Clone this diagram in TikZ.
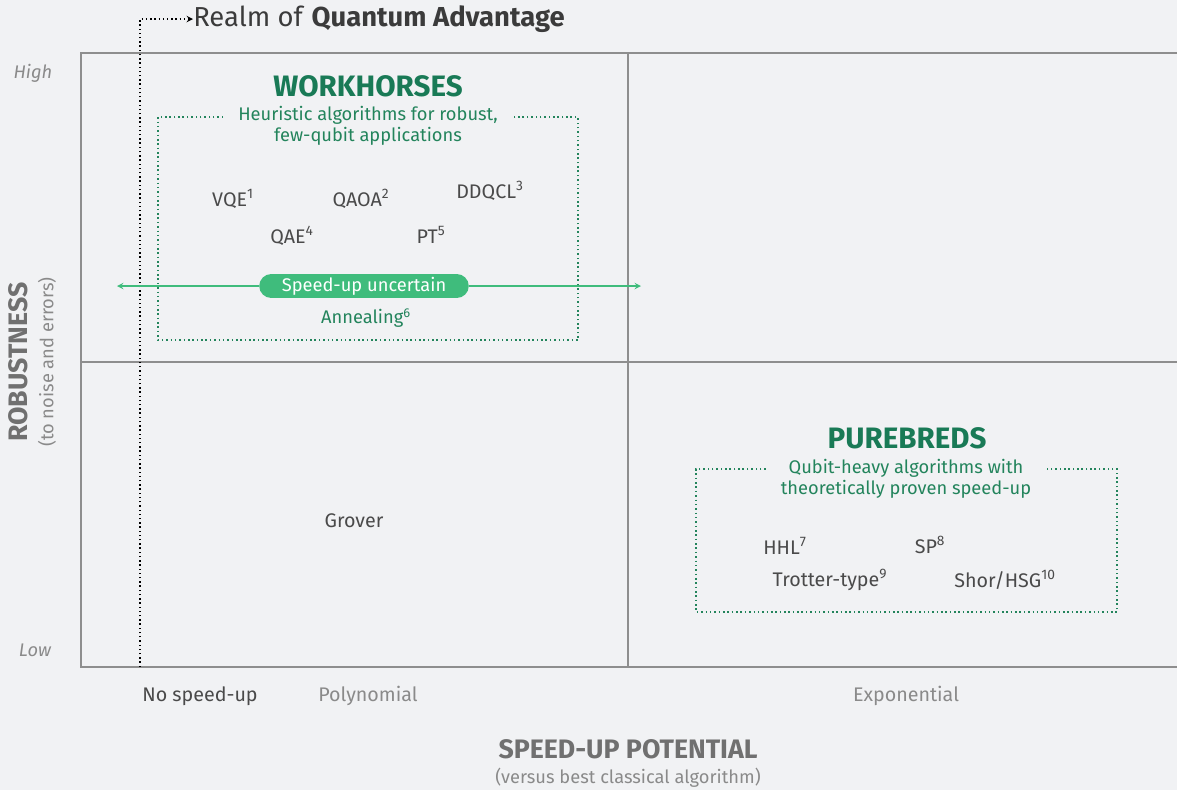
\documentclass[tikz,border=0pt]{standalone}
\usepackage{fontspec}
\setmainfont{Fira Sans}
\usepackage{xcolor}
\usetikzlibrary{positioning}
\usetikzlibrary{calc}

\definecolor{bgcol}{HTML}{F1F2F4}
\definecolor{framegray}{HTML}{8E8E8E}
\definecolor{txtgray}{HTML}{4A4A4A}
\definecolor{lightgray}{HTML}{8A8A8A}
\definecolor{axisgray}{HTML}{707070}
\definecolor{titlegreen}{HTML}{197A56}
\definecolor{subgreen}{HTML}{23845C}
\definecolor{pillgreen}{HTML}{3FBC7C}

\begin{document}
\begin{tikzpicture}[x=0.025cm, y=-0.025cm,
			algonode/.style={text=txtgray, font=\fontsize{14}{16}\selectfont, inner sep=0pt},
			titlenode/.style={text=titlegreen, font=\fontsize{21}{23}\selectfont\bfseries, inner sep=0pt},
			subnode/.style={text=subgreen, font=\fontsize{13}{15}\selectfont, align=center, inner xsep=10.5pt, inner ysep=0pt},
			axisnode/.style={text=lightgray, font=\fontsize{14}{16}\selectfont, inner sep=0pt},
			framelines/.style={draw=framegray, line width=0.9pt},
			greendots/.style={draw=subgreen, line width=1.1pt, dotted},
			]
			%Background
			\fill[bgcol] (0,0) rectangle (1177,790);
			\useasboundingbox (0,0) rectangle (1177,790);

			%Frame
			\coordinate (TL) at (81,53);
			\coordinate (TR) at (1177,53);
			\coordinate (BL) at (81,667);
			\coordinate (BR) at (1177,667);
			\coordinate (ML) at (81,362);
			\coordinate (MR) at (1177,362);
			\coordinate (DivT) at (628,53);
			\coordinate (DivB) at (628,667);
			\draw[framelines] (TR) -- (TL) -- (BL) -- (BR);
			\draw[framelines] (ML) -- (MR);
			\draw[framelines] (DivT) -- (DivB);

			%Axis labels
			\node[axisnode, font=\fontsize{13}{15}\selectfont\itshape] (High) at (33,73) {High};
			\node[axisnode, font=\fontsize{13}{15}\selectfont\itshape] (Low) at (35,650) {Low};
			\node[text=axisgray, font=\fontsize{19}{21}\selectfont\bfseries, rotate=90, inner sep=0pt] (Robust) at (18,362) {ROBUSTNESS};
			\node[text=lightgray, font=\fontsize{13}{15}\selectfont, rotate=90, inner sep=0pt] (Noise) at (47,362) {(to noise and errors)};
			\node[algonode] (NoSpeed) at (200,696) {No speed-up};
			\node[axisnode] (Poly) at (368,696) {Polynomial};
			\node[axisnode] (Expo) at (906,696) {Exponential};
			\node[text=axisgray, font=\fontsize{19}{21}\selectfont\bfseries, inner sep=0pt] (Potential) at (628,749) {SPEED-UP POTENTIAL};
			\node[text=lightgray, font=\fontsize{13}{15}\selectfont, inner sep=0pt] (Versus) at (628,778) {(versus best classical algorithm)};

			%Realm of quantum advantage
			\node[text=txtgray!80!black, font=\fontsize{19.5}{21}\selectfont, anchor=west, inner sep=0pt] (Realm) at (193,19) {Realm of \textbf{Quantum Advantage}};
			\coordinate (RealmB) at (140,667);
			\coordinate (RealmK) at (140,19);
			\draw[-stealth, black, line width=1pt, dotted] (RealmB) -- (RealmK) -- (Realm.west);

			%Workhorses
			\node[titlenode] (Workhorses) at (368,86) {WORKHORSES};
			\node[subnode] (WSub) at (368,126) {Heuristic algorithms for robust,\\ few-qubit applications};
			\coordinate (WTL) at (158,117);
			\coordinate (WTR) at (578,117);
			\coordinate (WBL) at (158,340);
			\coordinate (WBR) at (578,340);
			\draw[greendots] (WTL -| WSub.west) -- (WTL) -- (WBL) -- (WBR) -- (WTR) -- (WTR -| WSub.east);

			\node[algonode] (VQE) at (233,199) {VQE\textsuperscript{1}};
			\node[algonode] (QAOA) at (361,199) {QAOA\textsuperscript{2}};
			\node[algonode] (DDQCL) at (490,191) {DDQCL\textsuperscript{3}};
			\node[algonode] (QAE) at (292,236) {QAE\textsuperscript{4}};
			\node[algonode] (PT) at (431,235) {PT\textsuperscript{5}};

			\coordinate (ArrL) at (117,286);
			\coordinate (ArrR) at (641,286);
			\node[fill=pillgreen, text=white, rounded corners=8.5pt, minimum width=149pt, minimum height=17pt, inner sep=0pt, font=\fontsize{13}{15}\selectfont] (Pill) at (364,286) {Speed-up uncertain};
			\draw[-stealth, pillgreen, line width=1pt] (Pill.west) -- (ArrL);
			\draw[-stealth, pillgreen, line width=1pt] (Pill.east) -- (ArrR);
			\node[algonode, text=subgreen, font=\fontsize{13}{15}\selectfont] (Annealing) at (366,318) {Annealing\textsuperscript{6}};

			%Grover
			\node[algonode] (Grover) at (354,521) {Grover};

			%Purebreds
			\node[titlenode] (Purebreds) at (907,438) {PUREBREDS};
			\node[subnode] (PSub) at (906,479) {Qubit-heavy algorithms with\\ theoretically proven speed-up};
			\coordinate (PTL) at (696,469);
			\coordinate (PTR) at (1117,469);
			\coordinate (PBL) at (696,612);
			\coordinate (PBR) at (1117,612);
			\draw[greendots] (PTL -| PSub.west) -- (PTL) -- (PBL) -- (PBR) -- (PTR) -- (PTR -| PSub.east);

			\node[algonode] (HHL) at (785,546) {HHL\textsuperscript{7}};
			\node[algonode] (SP) at (930,545) {SP\textsuperscript{8}};
			\node[algonode] (Trotter) at (830,580) {Trotter-type\textsuperscript{9}};
			\node[algonode] (Shor) at (1005,580) {Shor/HSG\textsuperscript{10}};
		\end{tikzpicture}
\end{document}
